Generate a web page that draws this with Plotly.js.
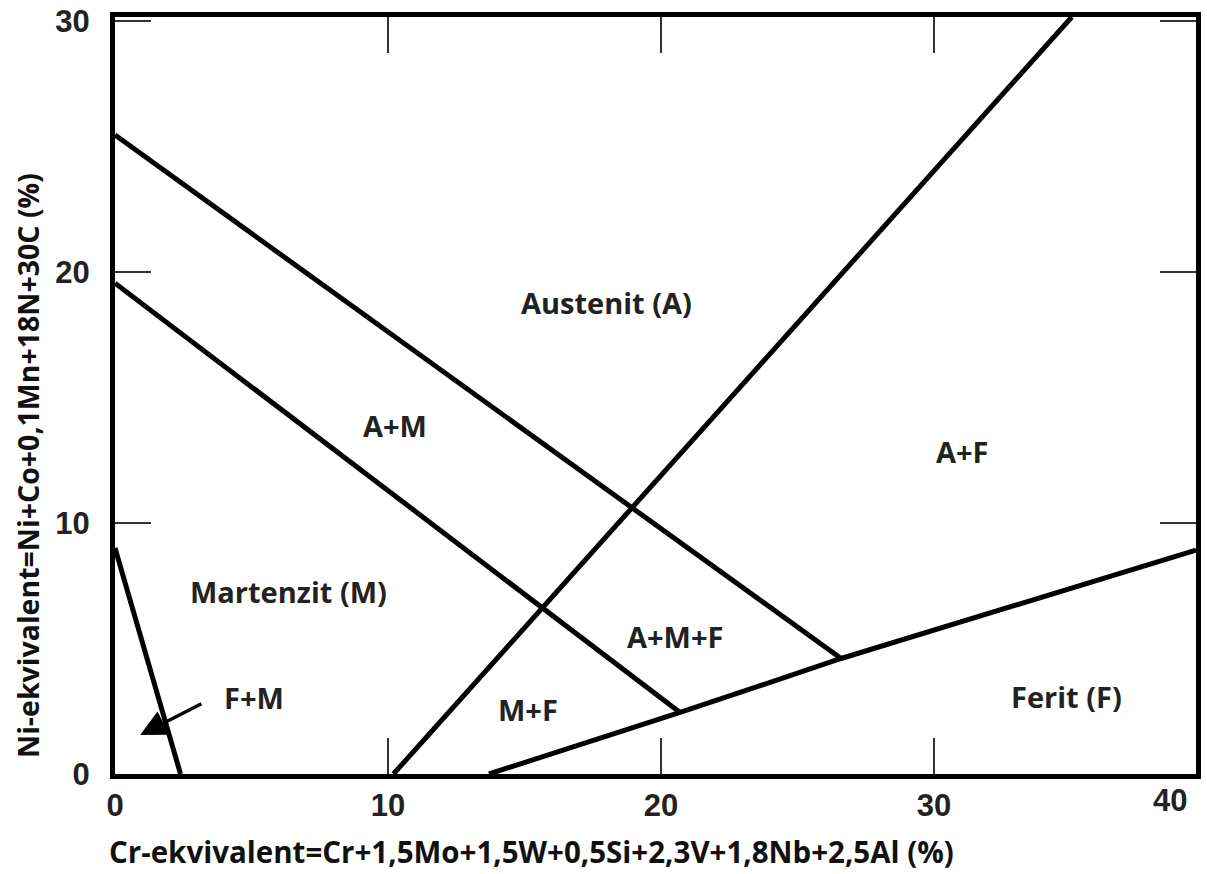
<!DOCTYPE html>
<html>
<head>
<meta charset="utf-8">
<script src="https://cdn.plot.ly/plotly-3.0.1.min.js"></script>
<style>html,body{margin:0;padding:0;background:#fff;}#chart{width:1207px;height:874px;}</style>
</head>
<body>
<div id="chart"></div>
<script>
// Boundary lines of the diagram (Cr-eq, Ni-eq)
const lineFM_x = [0, 2.4];
const lineFM_y = [9.0, 0];
const lineM_AM_x = [0, 20.7];
const lineM_AM_y = [19.55, 2.45];
const lineAM_A_x = [0, 26.6];
const lineAM_A_y = [25.45, 4.6];
const lineA_F_x = [10.2, 35.05];
const lineA_F_y = [0, 30.15];
const lineFerrite_x = [13.7, 20.7, 26.6, 39.6];
const lineFerrite_y = [0, 2.45, 4.6, 8.92];

// Region labels
const regionText = ["Austenit (A)", "A+M", "A+F", "Martenzit (M)", "A+M+F", "F+M", "M+F", "Ferit (F)"];
const regionX = [18.02, 10.26, 31.06, 6.34, 20.51, 5.09, 15.13, 34.87];
const regionY = [18.76, 13.9, 12.83, 7.25, 5.46, 3.03, 2.55, 3.07];

// Arrow pointing into the F+M region
const arrowTip = [0.92, 1.55];
const arrowTail = [3.22, 2.83];

// Axis ticks
const xTicks = [0, 10, 20, 30];
const yTicks = [0, 10, 20, 30];
const xTitle = "Cr-ekvivalent=Cr+1,5Mo+1,5W+0,5Si+2,3V+1,8Nb+2,5Al (%)";
const yTitle = "Ni-ekvivalent=Ni+Co+0,1Mn+18N+30C (%)";

const FONT = "Open Sans, Noto Sans, DejaVu Sans, sans-serif";
const lineStyle = {color: "#000", width: 5};

const traces = [
  [lineFM_x, lineFM_y], [lineM_AM_x, lineM_AM_y], [lineAM_A_x, lineAM_A_y],
  [lineA_F_x, lineA_F_y], [lineFerrite_x, lineFerrite_y]
].map(([x, y]) => ({x, y, type: "scatter", mode: "lines", line: lineStyle, hoverinfo: "skip", showlegend: false}));

const annotations = regionText.map((t, i) => ({
  x: regionX[i], y: regionY[i], xref: "x", yref: "y", text: t, showarrow: false,
  font: {family: FONT, size: 29, color: "#222", weight: "bold"}
}));

annotations.push({
  x: arrowTip[0], y: arrowTip[1], xref: "x", yref: "y",
  ax: arrowTail[0], ay: arrowTail[1], axref: "x", ayref: "y",
  text: "", showarrow: true, arrowhead: 2, arrowsize: 1.5, arrowwidth: 3.5, arrowcolor: "#000"
});

annotations.push({
  x: (531 - 115) / 1081, y: -(851 - 774) / 757, xref: "paper", yref: "paper",
  text: xTitle, showarrow: false, xanchor: "center", yanchor: "middle", borderpad: 0,
  font: {family: FONT, size: 29.5, color: "#111", weight: "bold"}
});
annotations.push({
  x: -(115 - 28) / 1081, y: (774 - 466) / 757, xref: "paper", yref: "paper",
  text: yTitle, showarrow: false, textangle: -90, xanchor: "center", yanchor: "middle",
  font: {family: FONT, size: 28.5, color: "#111", weight: "bold"}
});
annotations.push({
  x: (1170 - 115) / 1081, y: -(800 - 774) / 757, xref: "paper", yref: "paper",
  text: "40", showarrow: false, xanchor: "center", yanchor: "middle",
  font: {family: "Liberation Sans, Arial, sans-serif", size: 31, color: "#222", weight: "bold"}
});

const tickFont = {family: "Liberation Sans, Arial, sans-serif", size: 31, color: "#222", weight: "bold"};

const layout = {
  width: 1207, height: 874,
  margin: {l: 115, r: 11, t: 17, b: 100, pad: 0},
  paper_bgcolor: "#fff", plot_bgcolor: "#fff",
  showlegend: false,
  xaxis: {
    range: [0, 39.6], tickvals: xTicks, ticktext: xTicks.map(String),
    showgrid: false, zeroline: false,
    showline: true, linewidth: 5, linecolor: "#000", mirror: "allticks",
    ticks: "inside", ticklen: 36, tickwidth: 2.5, tickcolor: "#333",
    tickfont: tickFont, ticklabelstandoff: 0
  },
  yaxis: {
    range: [0, 30.15], tickvals: yTicks, ticktext: yTicks.map(String),
    showgrid: false, zeroline: false,
    showline: true, linewidth: 5, linecolor: "#000", mirror: "allticks",
    ticks: "inside", ticklen: 36, tickwidth: 2.5, tickcolor: "#333",
    tickfont: tickFont, ticklabelstandoff: 14
  },
  annotations: annotations
};

Plotly.newPlot("chart", traces, layout, {staticPlot: true, displayModeBar: false});
</script>
</body>
</html>
